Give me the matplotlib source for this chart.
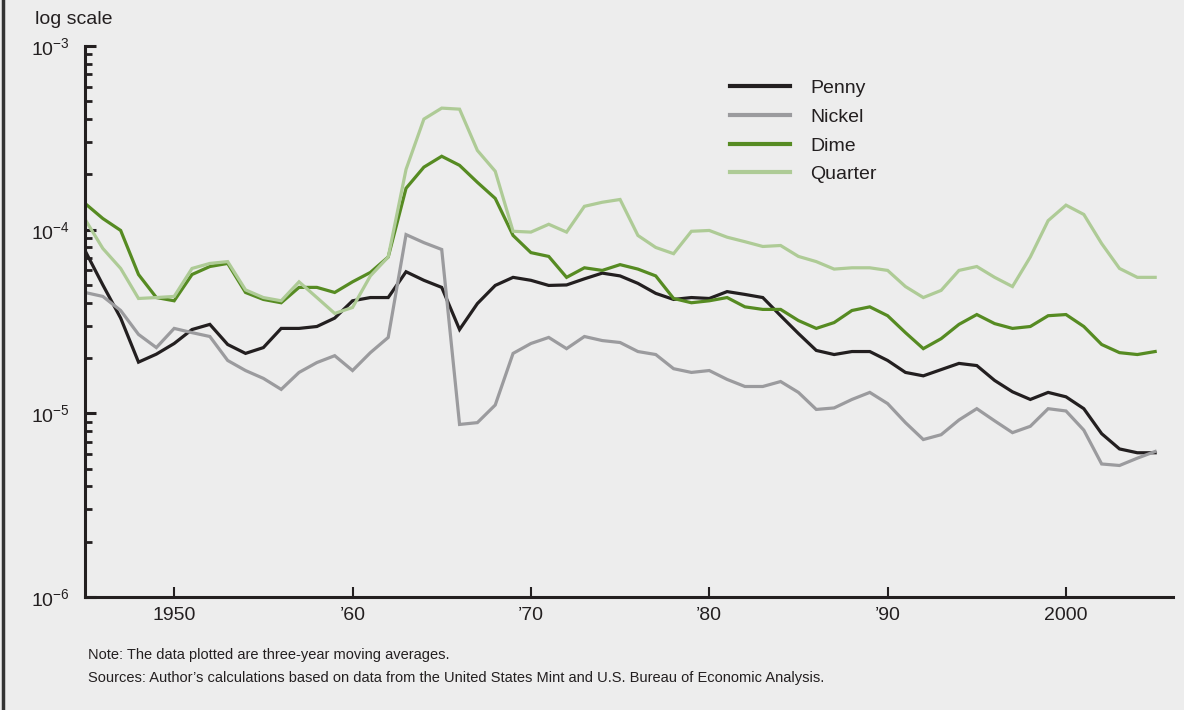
import numpy as np
import matplotlib
matplotlib.use("Agg")
import matplotlib.pyplot as plt
from matplotlib.lines import Line2D

plt.rcParams['font.family'] = ['Liberation Sans', 'DejaVu Sans']
plt.rcParams['mathtext.default'] = 'regular'

years = list(range(1945, 2006))

penny = [7.7e-5, 5.0e-5, 3.3e-5, 1.9e-5, 2.1e-5, 2.4e-5, 2.86e-5, 3.05e-5, 2.37e-5, 2.12e-5,
         2.28e-5, 2.9e-5, 2.9e-5, 2.97e-5, 3.3e-5, 4.1e-5, 4.27e-5, 4.27e-5, 5.9e-5, 5.3e-5,
         4.85e-5, 2.86e-5, 3.96e-5, 4.97e-5, 5.5e-5, 5.3e-5, 4.97e-5, 5.0e-5, 5.4e-5, 5.8e-5,
         5.6e-5, 5.1e-5, 4.5e-5, 4.17e-5, 4.27e-5, 4.22e-5, 4.6e-5, 4.44e-5, 4.27e-5, 3.4e-5,
         2.72e-5, 2.2e-5, 2.09e-5, 2.17e-5, 2.17e-5, 1.94e-5, 1.67e-5, 1.6e-5, 1.73e-5, 1.87e-5,
         1.82e-5, 1.51e-5, 1.31e-5, 1.19e-5, 1.3e-5, 1.23e-5, 1.06e-5, 7.75e-6, 6.4e-6, 6.1e-6,
         6.1e-6]

nickel = [4.55e-5, 4.33e-5, 3.63e-5, 2.69e-5, 2.28e-5, 2.9e-5, 2.75e-5, 2.62e-5, 1.94e-5, 1.71e-5,
          1.55e-5, 1.35e-5, 1.67e-5, 1.89e-5, 2.06e-5, 1.71e-5, 2.14e-5, 2.59e-5, 9.4e-5, 8.5e-5,
          7.8e-5, 8.7e-6, 8.9e-6, 1.11e-5, 2.12e-5, 2.4e-5, 2.59e-5, 2.25e-5, 2.62e-5, 2.49e-5,
          2.43e-5, 2.17e-5, 2.09e-5, 1.75e-5, 1.67e-5, 1.71e-5, 1.53e-5, 1.4e-5, 1.4e-5, 1.49e-5,
          1.3e-5, 1.05e-5, 1.07e-5, 1.19e-5, 1.3e-5, 1.13e-5, 8.9e-6, 7.2e-6, 7.65e-6, 9.2e-6,
          1.06e-5, 9.1e-6, 7.85e-6, 8.5e-6, 1.06e-5, 1.03e-5, 8.1e-6, 5.3e-6, 5.2e-6, 5.7e-6,
          6.2e-6]

dime = [1.39e-4, 1.15e-4, 9.9e-5, 5.7e-5, 4.27e-5, 4.1e-5, 5.7e-5, 6.3e-5, 6.55e-5, 4.55e-5,
        4.17e-5, 4.0e-5, 4.85e-5, 4.85e-5, 4.55e-5, 5.2e-5, 5.85e-5, 7.1e-5, 1.68e-4, 2.19e-4,
        2.51e-4, 2.24e-4, 1.81e-4, 1.48e-4, 9.3e-5, 7.5e-5, 7.15e-5, 5.5e-5, 6.2e-5, 6.0e-5,
        6.45e-5, 6.1e-5, 5.6e-5, 4.22e-5, 4.0e-5, 4.1e-5, 4.27e-5, 3.8e-5, 3.68e-5, 3.68e-5,
        3.2e-5, 2.9e-5, 3.12e-5, 3.63e-5, 3.8e-5, 3.4e-5, 2.75e-5, 2.25e-5, 2.55e-5, 3.05e-5,
        3.45e-5, 3.08e-5, 2.9e-5, 2.97e-5, 3.4e-5, 3.45e-5, 2.97e-5, 2.37e-5, 2.14e-5, 2.09e-5,
        2.17e-5]

quarter = [1.14e-4, 7.9e-5, 6.15e-5, 4.22e-5, 4.27e-5, 4.33e-5, 6.15e-5, 6.55e-5, 6.7e-5, 4.7e-5,
           4.27e-5, 4.1e-5, 5.2e-5, 4.27e-5, 3.5e-5, 3.77e-5, 5.6e-5, 7.1e-5, 2.13e-4, 4.0e-4,
           4.59e-4, 4.53e-4, 2.7e-4, 2.08e-4, 9.8e-5, 9.7e-5, 1.07e-4, 9.7e-5, 1.34e-4, 1.41e-4,
           1.46e-4, 9.3e-5, 8.0e-5, 7.4e-5, 9.8e-5, 9.9e-5, 9.1e-5, 8.6e-5, 8.1e-5, 8.2e-5,
           7.15e-5, 6.7e-5, 6.1e-5, 6.2e-5, 6.2e-5, 6.0e-5, 4.9e-5, 4.27e-5, 4.67e-5, 6.0e-5,
           6.3e-5, 5.5e-5, 4.9e-5, 7.1e-5, 1.12e-4, 1.36e-4, 1.21e-4, 8.4e-5, 6.15e-5, 5.5e-5,
           5.5e-5]

tick_years = [1950, 1960, 1970, 1980, 1990, 2000]
tick_labels = ["1950", "\u201960", "\u201970", "\u201980", "\u201990", "2000"]

names = ["Penny", "Nickel", "Dime", "Quarter"]
colors = ["#231f20", "#9b9b9e", "#568b22", "#aecb96"]

bg = "#ededed"
ink = "#231f20"

fig = plt.figure(figsize=(11.84, 7.1), dpi=100, facecolor=bg)
ax = fig.add_axes([85/1184, 1 - 597/710, 1088/1184, 551/710])
ax.set_facecolor(bg)

for vals, c in zip([penny, nickel, dime, quarter], colors):
    ax.plot(years, vals, color=c, lw=2.3, solid_joinstyle='miter')

ax.set_yscale('log')
ax.set_ylim(1e-6, 1e-3)
ax.set_xlim(1945, 2006)

for s in ['top', 'right']:
    ax.spines[s].set_visible(False)
for s in ['left', 'bottom']:
    ax.spines[s].set_linewidth(2.2)
    ax.spines[s].set_color(ink)

ax.set_xticks(tick_years)
ax.set_xticklabels(tick_labels)
ax.tick_params(axis='x', direction='in', length=7, width=1.5, color=ink,
               labelsize=14, labelcolor=ink, pad=7)
ax.tick_params(axis='y', which='major', direction='in', length=8, width=2.2, color=ink,
               labelsize=14, labelcolor=ink, pad=11)
ax.tick_params(axis='y', which='minor', direction='in', length=5, width=2.0, color=ink)
ax.yaxis.set_minor_formatter(matplotlib.ticker.NullFormatter())

handles = [Line2D([], [], color=c, lw=3) for c in colors]
leg = ax.legend(handles, names, loc='upper left', bbox_to_anchor=(0.593, 0.939),
                frameon=False, fontsize=14, handlelength=3.1, handletextpad=1.0,
                labelspacing=0.57, borderpad=0, borderaxespad=0)
for t in leg.get_texts():
    t.set_color(ink)

fig.text(35/1184, 1 - 19/710, "log scale", fontsize=14, color=ink, va='center', ha='left')
fig.text(88/1184, 1 - 655/710, "Note: The data plotted are three-year moving averages.",
         fontsize=10.5, color=ink, va='center', ha='left')
fig.text(88/1184, 1 - 678/710,
         "Sources: Author\u2019s calculations based on data from the United States Mint and U.S. Bureau of Economic Analysis.",
         fontsize=10.5, color=ink, va='center', ha='left')

fig.add_artist(Line2D([2.5/1184, 2.5/1184], [0, 1], color="#333333", lw=2.5,
                      transform=fig.transFigure))

fig.savefig("out.png", dpi=100, facecolor=bg)
